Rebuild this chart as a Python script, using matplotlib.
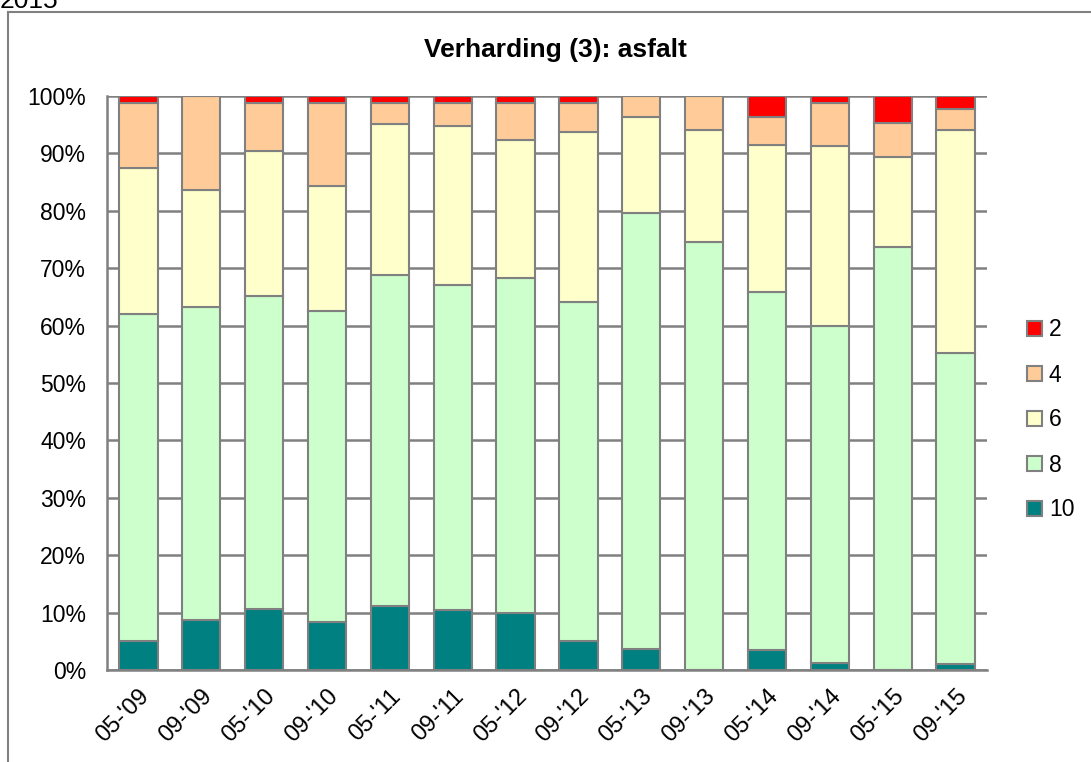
import matplotlib
matplotlib.use('Agg')
import matplotlib.pyplot as plt
from matplotlib.patches import Patch, Rectangle
from matplotlib.ticker import FuncFormatter
import numpy as np

plt.rcParams['font.family'] = ['Liberation Sans', 'DejaVu Sans']

# periodes (maand-'jaar)
periodes = ["05-'09", "09-'09", "05-'10", "09-'10", "05-'11", "09-'11", "05-'12",
            "09-'12", "05-'13", "09-'13", "05-'14", "09-'14", "05-'15", "09-'15"]

# aandeel per score, in procenten (van onder naar boven gestapeld)
score_10 = [5.0, 8.7, 10.7, 8.3, 11.1, 10.4, 10.0, 5.0, 3.6, 0.0, 3.5, 1.3, 0.0, 1.0]
score_8 = [57.0, 54.6, 54.4, 54.3, 57.7, 56.7, 58.3, 59.1, 76.1, 74.6, 62.4, 58.6, 73.7, 54.3]
score_6 = [25.4, 20.3, 25.3, 21.7, 26.3, 27.7, 24.1, 29.6, 16.7, 19.4, 25.6, 31.4, 15.6, 38.8]
score_4 = [11.4, 16.4, 8.4, 14.5, 3.7, 4.0, 6.4, 5.1, 3.6, 6.0, 4.9, 7.5, 6.0, 3.6]
score_2 = [1.2, 0.0, 1.2, 1.2, 1.2, 1.2, 1.2, 1.2, 0.0, 0.0, 3.6, 1.2, 4.7, 2.3]

series = [('10', score_10, '#008080'),
          ('8', score_8, '#CCFFCC'),
          ('6', score_6, '#FFFFCC'),
          ('4', score_4, '#FFCC99'),
          ('2', score_2, '#FF0000')]

W, H = 1091, 762
fig = plt.figure(figsize=(W / 100, H / 100), dpi=100)
ax = fig.add_axes([107 / W, (H - 670) / H, (987 - 107) / W, (670 - 96) / H])

x = np.arange(len(periodes))
bottom = np.zeros(len(periodes))
for naam, vals, kleur in series:
    vals = np.array(vals)
    ax.bar(x, vals, 0.61, bottom=bottom, color=kleur, edgecolor='#808080',
           linewidth=1.5, zorder=3)
    bottom += vals

ax.set_xlim(-0.5, len(periodes) - 0.5)
ax.set_ylim(0, 100)
ax.set_yticks(range(0, 101, 10))
ax.yaxis.set_major_formatter(FuncFormatter(lambda v, p: f'{v:.0f}%'))
ax.yaxis.grid(True, color='#808080', linewidth=1.8, zorder=0)
ax.set_axisbelow(True)
for s in ['top', 'right']:
    ax.spines[s].set_visible(False)
for s in ['left', 'bottom']:
    ax.spines[s].set_color('#808080')
    ax.spines[s].set_linewidth(1.8)
ax.tick_params(axis='y', length=0, pad=15, labelsize=16.5)
ax.tick_params(axis='x', length=0, pad=11, labelsize=17)
ax.set_xticks(x)
ax.set_xticklabels(periodes, rotation=45, ha='right', rotation_mode='anchor')

fig.text(555 / W, 1 - 50 / H, 'Verharding (3): asfalt', ha='center', va='center',
         fontsize=19, fontweight='bold')
fig.text(0 / W, 1 - 8 / H, '2015', ha='left', va='baseline', fontsize=19)

# rand om de grafiek
fig.patches.append(Rectangle((8 / W, -0.1), 1.2, 1 - 12 / H + 0.1, transform=fig.transFigure,
                             fill=False, edgecolor='#808080', linewidth=1.5))

handles = [Patch(facecolor=k, edgecolor='#808080', linewidth=1.5, label=n)
           for n, v, k in reversed(series)]
fig.legend(handles=handles, loc='center left', bbox_to_anchor=(1027 / W, 1 - 420 / H),
           frameon=False, fontsize=16.5, handlelength=0.65, handleheight=0.65,
           handletextpad=0.3, labelspacing=0.96, borderpad=0, borderaxespad=0)

fig.savefig('out.png', dpi=100)
